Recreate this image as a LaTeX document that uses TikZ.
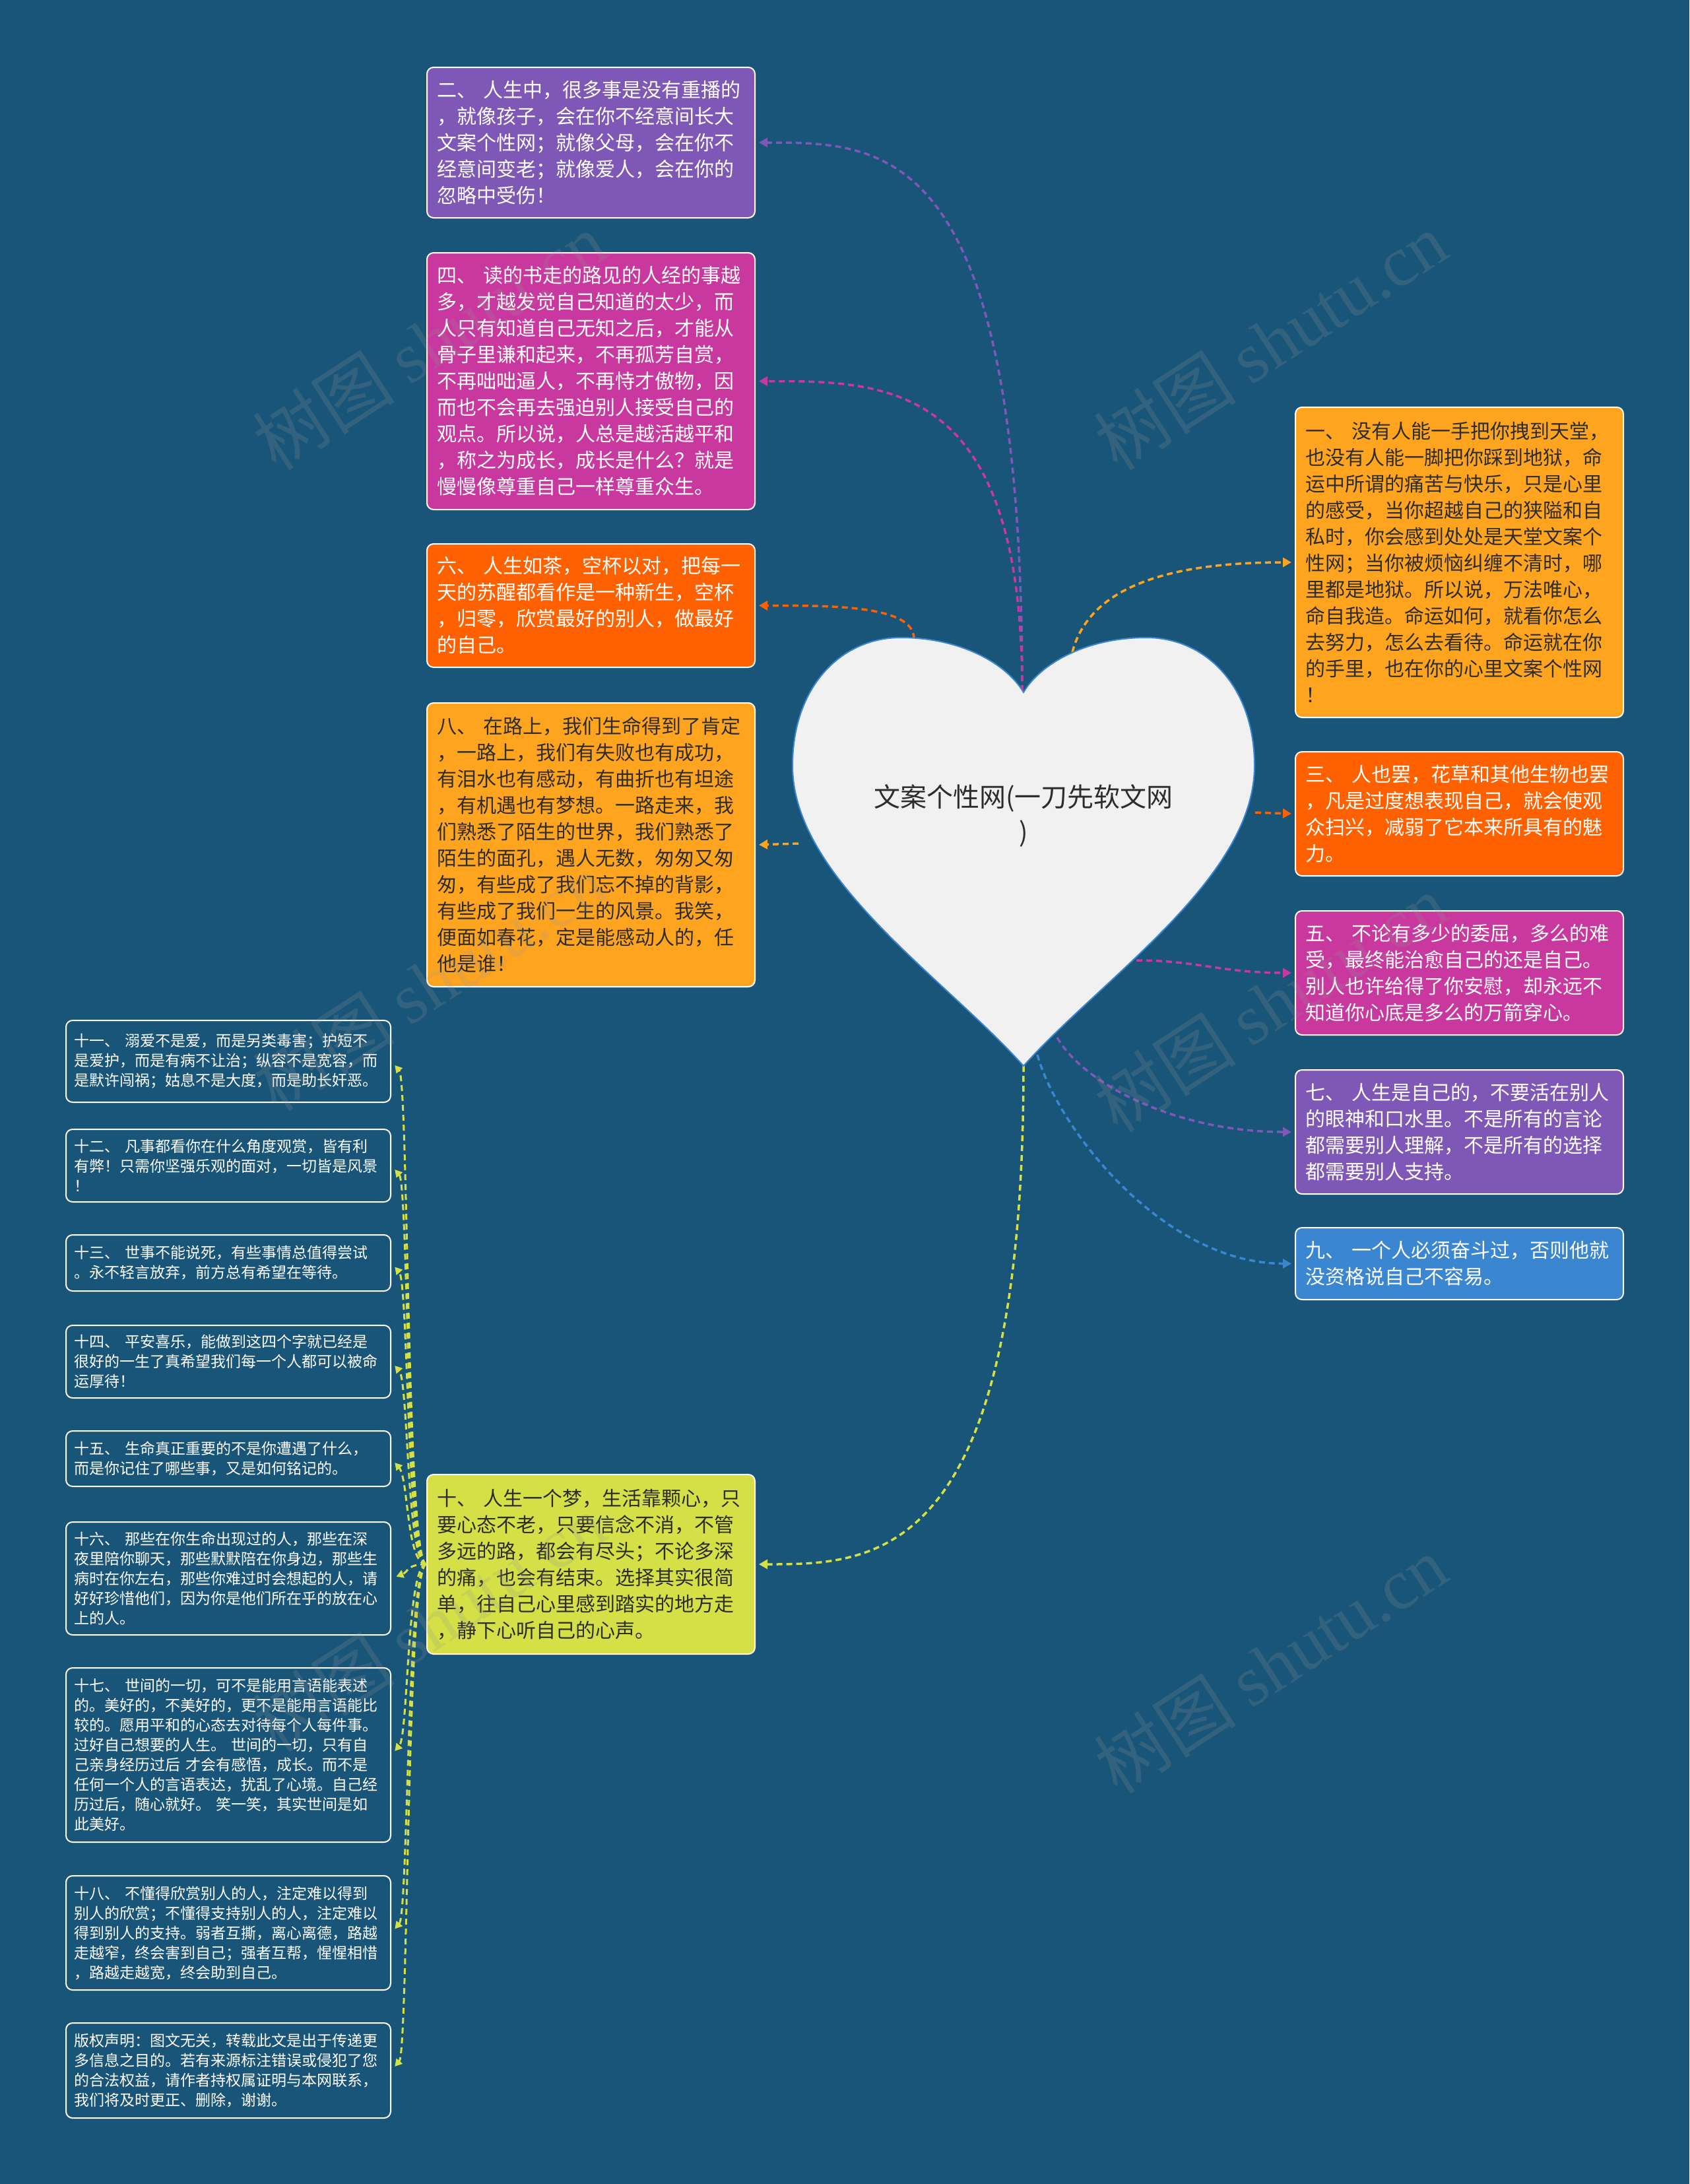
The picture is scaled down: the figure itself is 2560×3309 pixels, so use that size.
\documentclass[tikz,border=0pt]{standalone}
\usepackage{fontspec}
\setmainfont{Noto Sans CJK SC}
\newfontfamily\wmlatin{Liberation Serif}
\usetikzlibrary{arrows.meta,calc}
\definecolor{bgc}{RGB}{25,85,120}
\definecolor{cPurple}{RGB}{127,87,182}
\definecolor{cMagenta}{RGB}{200,56,158}
\definecolor{cRed}{RGB}{255,96,0}
\definecolor{cOrange}{RGB}{255,164,30}
\definecolor{cBlue}{RGB}{58,134,208}
\definecolor{cLime}{RGB}{212,224,70}
\definecolor{cHeart}{RGB}{241,241,241}
\definecolor{txtdark}{RGB}{45,45,45}
\definecolor{wmgray}{RGB}{150,150,150}
\tikzset{
  bigbox/.style={draw=white, line width=2pt, rounded corners=10pt, anchor=north west,
    align=left, text width=466pt, inner xsep=15.5pt, inner ysep=0pt,
    font=\fontsize{30}{40}\selectfont},
  smallbox/.style={draw=white, line width=2pt, rounded corners=10pt, anchor=north west,
    fill=bgc, text=white, align=left, text width=467pt, inner xsep=12.5pt, inner ysep=0pt,
    font=\fontsize{23}{30}\selectfont},
  conn/.style={draw=#1, line width=3.5pt, dash pattern=on 9pt off 6pt,
    -{Triangle[length=13pt,width=14pt]}, shorten >=5pt},
  sconn/.style={draw=cLime, line width=3pt, dash pattern=on 9pt off 6pt,
    -{Triangle[length=11pt,width=12pt]}, shorten >=8pt},
  wmark/.style={rotate=33, opacity=0.2, text=wmgray, font=\fontsize{108}{108}\selectfont}
}
\begin{document}
\begin{tikzpicture}[x=1pt,y=-1pt]
\fill[bgc] (0,0) rectangle (2560,3309);
\useasboundingbox (0,0) rectangle (2560,3309);

% heart anchor points
\coordinate (hdip) at (1549,1047);
\coordinate (hl6) at (1385,968);
\coordinate (hr1) at (1625,988);
\coordinate (hr3) at (1902,1231);
\coordinate (hr5) at (1722,1455);
\coordinate (hb7) at (1602,1572);
\coordinate (hb9) at (1572,1598);
\coordinate (hbot) at (1551,1615);
\coordinate (hl8) at (1210,1278);

% boxes
\node[bigbox, fill=cPurple, text=white, minimum height=228pt] (n2) at (646,101) {二、 人生中，很多事是没有重播的\\，就像孩子，会在你不经意间长大\\文案个性网；就像父母，会在你不\\经意间变老；就像爱人，会在你的\\忽略中受伤！};
\node[bigbox, fill=cMagenta, text=white, minimum height=389pt] (n4) at (646,382) {四、 读的书走的路见的人经的事越\\多，才越发觉自己知道的太少，而\\人只有知道自己无知之后，才能从\\骨子里谦和起来，不再孤芳自赏，\\不再咄咄逼人，不再恃才傲物，因\\而也不会再去强迫别人接受自己的\\观点。所以说，人总是越活越平和\\，称之为成长，成长是什么？就是\\慢慢像尊重自己一样尊重众生。};
\node[bigbox, fill=cRed, text=white, minimum height=187pt] (n6) at (646,823) {六、 人生如茶，空杯以对，把每一\\天的苏醒都看作是一种新生，空杯\\，归零，欣赏最好的别人，做最好\\的自己。};
\node[bigbox, fill=cOrange, text=txtdark, minimum height=430pt] (n8) at (646,1064) {八、 在路上，我们生命得到了肯定\\，一路上，我们有失败也有成功，\\有泪水也有感动，有曲折也有坦途\\，有机遇也有梦想。一路走来，我\\们熟悉了陌生的世界，我们熟悉了\\陌生的面孔，遇人无数，匆匆又匆\\匆，有些成了我们忘不掉的背影，\\有些成了我们一生的风景。我笑，\\便面如春花，定是能感动人的，任\\他是谁！};
\node[bigbox, fill=cLime, text=txtdark, minimum height=272pt] (n10) at (646,2233) {十、 人生一个梦，生活靠颗心，只\\要心态不老，只要信念不消，不管\\多远的路，都会有尽头；不论多深\\的痛，也会有结束。选择其实很简\\单，往自己心里感到踏实的地方走\\，静下心听自己的心声。};
\node[bigbox, fill=cOrange, text=txtdark, minimum height=470pt] (n1) at (1962,616) {一、 没有人能一手把你拽到天堂，\\也没有人能一脚把你踩到地狱，命\\运中所谓的痛苦与快乐，只是心里\\的感受，当你超越自己的狭隘和自\\私时，你会感到处处是天堂文案个\\性网；当你被烦恼纠缠不清时，哪\\里都是地狱。所以说，万法唯心，\\命自我造。命运如何，就看你怎么\\去努力，怎么去看待。命运就在你\\的手里，也在你的心里文案个性网\\！};
\node[bigbox, fill=cRed, text=white, minimum height=188pt] (n3) at (1962,1138) {三、 人也罢，花草和其他生物也罢\\，凡是过度想表现自己，就会使观\\众扫兴，减弱了它本来所具有的魅\\力。};
\node[bigbox, fill=cMagenta, text=white, minimum height=188pt] (n5) at (1962,1379) {五、 不论有多少的委屈，多么的难\\受，最终能治愈自己的还是自己。\\别人也许给得了你安慰，却永远不\\知道你心底是多么的万箭穿心。};
\node[bigbox, fill=cPurple, text=white, minimum height=188pt] (n7) at (1962,1620) {七、 人生是自己的，不要活在别人\\的眼神和口水里。不是所有的言论\\都需要别人理解，不是所有的选择\\都需要别人支持。};
\node[bigbox, fill=cBlue, text=white, minimum height=109pt] (n9) at (1962,1859) {九、 一个人必须奋斗过，否则他就\\没资格说自己不容易。};

\node[smallbox, minimum height=124pt] (s11) at (99,1545) {十一、 溺爱不是爱，而是另类毒害；护短不\\是爱护，而是有病不让治；纵容不是宽容，而\\是默许闯祸；姑息不是大度，而是助长奸恶。};
\node[smallbox, minimum height=110pt] (s12) at (99,1710) {十二、 凡事都看你在什么角度观赏，皆有利\\有弊！只需你坚强乐观的面对，一切皆是风景\\！};
\node[smallbox, minimum height=85pt] (s13) at (99,1870) {十三、 世事不能说死，有些事情总值得尝试\\。永不轻言放弃，前方总有希望在等待。};
\node[smallbox, minimum height=110pt] (s14) at (99,2007) {十四、 平安喜乐，能做到这四个字就已经是\\很好的一生了真希望我们每一个人都可以被命\\运厚待！};
\node[smallbox, minimum height=84pt] (s15) at (99,2167) {十五、 生命真正重要的不是你遭遇了什么，\\而是你记住了哪些事，又是如何铭记的。};
\node[smallbox, minimum height=171pt] (s16) at (99,2305) {十六、 那些在你生命出现过的人，那些在深\\夜里陪你聊天，那些默默陪在你身边，那些生\\病时在你左右，那些你难过时会想起的人，请\\好好珍惜他们，因为你是他们所在乎的放在心\\上的人。};
\node[smallbox, minimum height=264pt] (s17) at (99,2526) {十七、 世间的一切，可不是能用言语能表述\\的。美好的，不美好的，更不是能用言语能比\\较的。愿用平和的心态去对待每个人每件事。\\过好自己想要的人生。 世间的一切，只有自\\己亲身经历过后 才会有感悟，成长。而不是\\任何一个人的言语表达，扰乱了心境。自己经\\历过后，随心就好。 笑一笑，其实世间是如\\此美好。};
\node[smallbox, minimum height=173pt] (s18) at (99,2841) {十八、 不懂得欣赏别人的人，注定难以得到\\别人的欣赏；不懂得支持别人的人，注定难以\\得到别人的支持。弱者互撕，离心离德，路越\\走越窄，终会害到自己；强者互帮，惺惺相惜\\，路越走越宽，终会助到自己。};
\node[smallbox, minimum height=144pt] (s19) at (99,3064) {版权声明：图文无关，转载此文是出于传递更\\多信息之目的。若有来源标注错误或侵犯了您\\的合法权益，请作者持权属证明与本网联系，\\我们将及时更正、删除，谢谢。};

% connectors from heart
\draw[conn=cPurple] (hdip) .. controls (hdip |- n2.east) and ($(n2.east)+(200,0)$) .. (n2.east);
\draw[conn=cMagenta] (hdip) .. controls (hdip |- n4.east) and ($(n4.east)+(200,0)$) .. (n4.east);
\draw[conn=cRed] (hl6) .. controls (hl6 |- n6.east) and ($(n6.east)+(120,0)$) .. (n6.east);
\draw[conn=cOrange] (hl8) -- (n8.east);
\draw[conn=cLime] (hbot) .. controls (hbot |- n10.east) and ($(n10.east)+(180,0)$) .. (n10.east);
\draw[conn=cOrange] (hr1) .. controls ($(hr1)+(25,-95)$) and ($(n1.west)+(-200,0)$) .. (n1.west);
\draw[conn=cRed] (hr3) -- (n3.west);
\draw[conn=cMagenta] (hr5) .. controls ($(hr5)+(90,0)$) and ($(n5.west)+(-110,0)$) .. (n5.west);
\draw[conn=cPurple] (hb7) .. controls ($(hb7)+(40,70)$) and ($(n7.west)+(-180,0)$) .. (n7.west);
\draw[conn=cBlue] (hb9) .. controls ($(hb9)+(30,110)$) and ($(n9.west)+(-200,0)$) .. (n9.west);

% connectors to small boxes
\draw[sconn] (n10.west) .. controls +(-30,0) and +(26,30) .. (s11.east);
\draw[sconn] (n10.west) .. controls +(-30,0) and +(26,30) .. (s12.east);
\draw[sconn] (n10.west) .. controls +(-30,0) and +(26,30) .. (s13.east);
\draw[sconn] (n10.west) .. controls +(-30,0) and +(26,30) .. (s14.east);
\draw[sconn] (n10.west) .. controls +(-30,0) and +(26,30) .. (s15.east);
\draw[sconn] (n10.west) .. controls +(-30,0) and +(26,-10) .. (s16.east);
\draw[sconn] (n10.west) .. controls +(-30,0) and +(26,-30) .. (s17.east);
\draw[sconn] (n10.west) .. controls +(-30,0) and +(26,-30) .. (s18.east);
\draw[sconn] (n10.west) .. controls +(-30,0) and +(26,-30) .. (s19.east);

% heart
\draw[fill=cHeart, draw=cBlue, line width=2pt]
  (1551,1615) .. controls (1430,1480) and (1201,1330) .. (1201,1160)
  .. controls (1201,1040) and (1275,966) .. (1365,966)
  .. controls (1455,966) and (1525,1005) .. (1551,1049)
  .. controls (1577,1005) and (1647,966) .. (1737,966)
  .. controls (1827,966) and (1901,1040) .. (1901,1160)
  .. controls (1901,1330) and (1672,1480) .. (1551,1615) -- cycle;
\node[font=\fontsize{40}{53}\selectfont, text=txtdark, align=center] (ctext) at (1551,1236) {文案个性网(一刀先软文网\\)};

% watermarks
\node[wmark] (w1) at (650,517) {树图 {\wmlatin shutu.cn}};
\node[wmark] (w2) at (1925,517) {树图 {\wmlatin shutu.cn}};
\node[wmark] (w3) at (650,1488) {树图 {\wmlatin shutu.cn}};
\node[wmark] (w4) at (1925,1520) {树图 {\wmlatin shutu.cn}};
\node[wmark] (w5) at (650,2459) {树图 {\wmlatin shutu.cn}};
\node[wmark] (w6) at (1925,2522) {树图 {\wmlatin shutu.cn}};
\end{tikzpicture}
\end{document}
